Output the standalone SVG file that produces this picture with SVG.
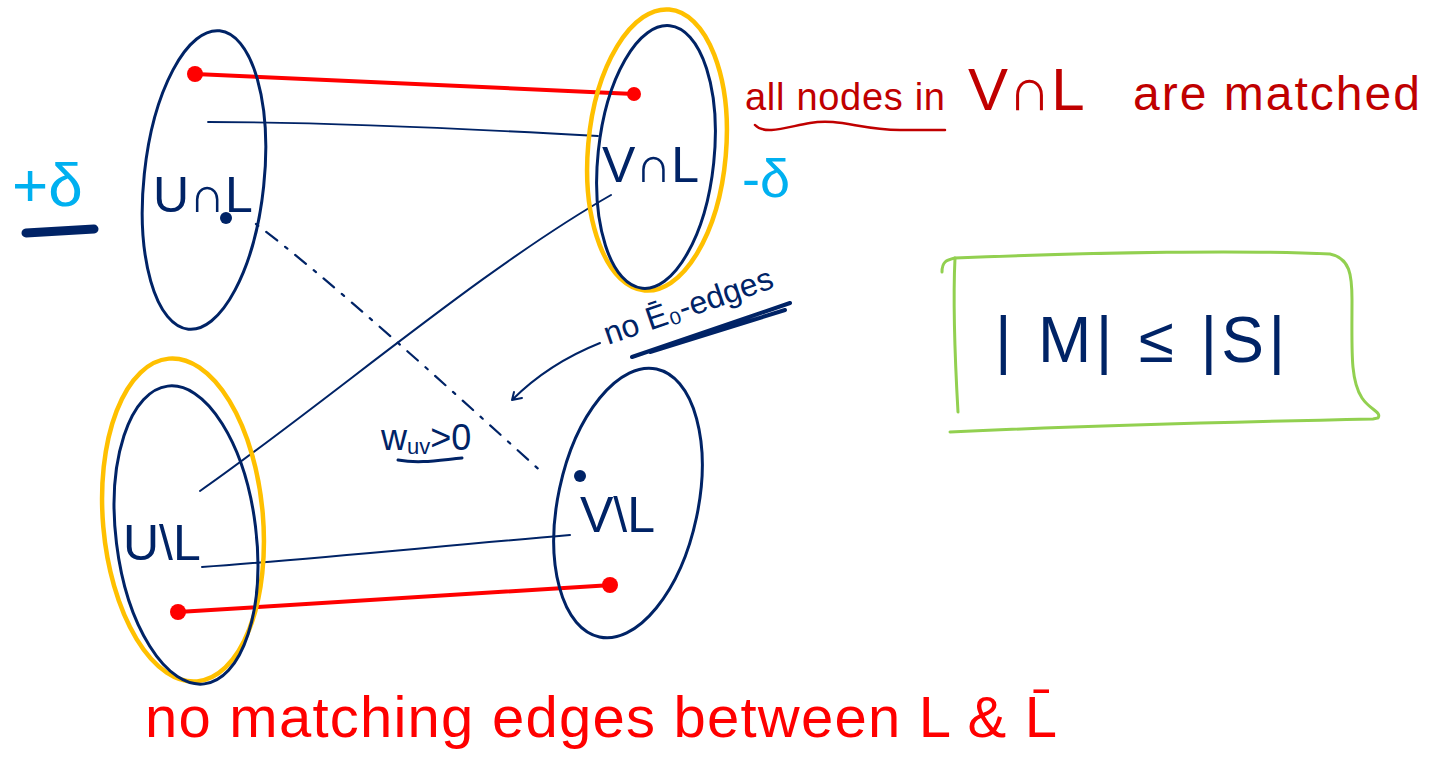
<svg xmlns="http://www.w3.org/2000/svg" width="1433" height="762" viewBox="0 0 1433 762">
<style>
.nv{fill:none;stroke:#002366;stroke-width:3;stroke-linecap:round;stroke-linejoin:round}
.yl{fill:none;stroke:#ffc000;stroke-width:4.5;stroke-linecap:round}
.rd{fill:none;stroke:#ff0000;stroke-width:4;stroke-linecap:round}
.lbl{font-family:"Liberation Sans",sans-serif;fill:#002366}
.cy{font-family:"Liberation Sans",sans-serif;fill:#00b0f0}
.rt{font-family:"Liberation Sans",sans-serif;fill:#c00000}
.rb{font-family:"Liberation Sans",sans-serif;fill:#ff0000}
</style>
<rect width="1433" height="762" fill="#ffffff"/>

<g id="connectors">
  <path class="rd" d="M195,74 L634,94"/>
  <circle cx="195" cy="74" r="8" fill="#ff0000"/>
  <circle cx="634" cy="94" r="7" fill="#ff0000"/>
  <path class="nv" style="stroke-width:1.8" d="M208,122 C300,122 420,126 598,136"/>
  <path class="nv" style="stroke-width:2" d="M611,195 C480,270 330,400 200,491"/>
  <path class="nv" style="stroke-width:2.2" stroke-dasharray="3 10 14 10" d="M256,224 C330,280 440,380 545,475"/>
  <path class="nv" style="stroke-width:2" d="M202,567 C300,560 420,548 570,535"/>
  <path class="rd" d="M178,612 L612,585"/>
  <circle cx="178" cy="612" r="8" fill="#ff0000"/>
  <circle cx="610" cy="585" r="8" fill="#ff0000"/>
  <path class="nv" style="stroke-width:2" d="M600,343 C570,355 540,372 512,400 M512,400 L522,398 M512,400 L514,392"/>
</g>

<g id="node-u-cap-l">
  <ellipse class="nv" cx="204" cy="180" rx="60" ry="150" transform="rotate(6 204 180)"/>
  <text class="lbl" x="153" y="212" font-size="50">U∩L</text>
  <circle cx="226" cy="218" r="6" fill="#002366"/>
</g>

<g id="node-v-cap-l">
  <ellipse class="yl" cx="657" cy="150" rx="69" ry="141" transform="rotate(5 657 150)"/>
  <ellipse class="nv" cx="656" cy="157" rx="58" ry="132" transform="rotate(6 656 157)"/>
  <text class="lbl" x="602" y="182" font-size="50">V∩L</text>
</g>

<g id="node-u-minus-l">
  <ellipse class="yl" cx="183" cy="520" rx="80" ry="162" transform="rotate(-5 183 520)"/>
  <ellipse class="nv" cx="186" cy="535" rx="70" ry="150" transform="rotate(-7 186 535)"/>
  <text class="lbl" x="123" y="560" font-size="50">U\L</text>
</g>

<g id="node-v-minus-l">
  <ellipse class="nv" cx="628" cy="503" rx="70" ry="137" transform="rotate(12 628 503)"/>
  <circle cx="580" cy="476" r="6" fill="#002366"/>
  <text class="lbl" x="580" y="532" font-size="50">V\L</text>
</g>

<g id="annotations">
  <text class="cy" x="12" y="206" font-size="62">+δ</text>
  <path d="M26,233 L94,229" stroke="#002366" stroke-width="9" stroke-linecap="round"/>
  <text class="cy" x="742" y="197" font-size="54">-δ</text>

  <text class="rt" x="745" y="110" font-size="38"><tspan textLength="200">all nodes in</tspan><tspan x="968" font-size="60">V∩L</tspan><tspan x="1133" font-size="48" textLength="287">are matched</tspan></text>
  <path d="M755,125 C765,136 790,126 810,123 C840,118 860,130 900,130 L945,130" fill="none" stroke="#c00000" stroke-width="2.5" stroke-linecap="round"/>

  <text class="lbl" transform="translate(608,345) rotate(-19)" font-size="32">no Ē₀-edges</text>
  <path d="M632,357 L790,303 M650,352 L785,310" fill="none" stroke="#002366" stroke-width="4" stroke-linecap="round"/>

  <text class="lbl" x="381" y="450" font-size="36">w<tspan font-size="22" dy="4">uv</tspan><tspan dy="-4">&gt;0</tspan></text>
  <path d="M398,460 C420,464 440,460 462,458" fill="none" stroke="#002366" stroke-width="3" stroke-linecap="round"/>

  <text class="rb" x="145" y="737" font-size="58" textLength="912">no  matching edges between L &amp; L̄</text>
</g>

<g id="box-m-s">
  <path d="M942,272 C942,262 946,260 955,258 C1100,252 1250,250 1330,254 C1350,258 1352,275 1352,300 C1352,350 1350,380 1362,398 C1370,410 1382,412 1378,418 L1373,419 C1230,422 1100,425 950,432" fill="none" stroke="#92d050" stroke-width="3" stroke-linecap="round"/>
  <path d="M955,258 C953,300 955,360 958,412" fill="none" stroke="#92d050" stroke-width="3" stroke-linecap="round"/>
  <text class="lbl" x="995" y="362" font-size="64" textLength="290">| M| ≤ |S|</text>
</g>
</svg>
